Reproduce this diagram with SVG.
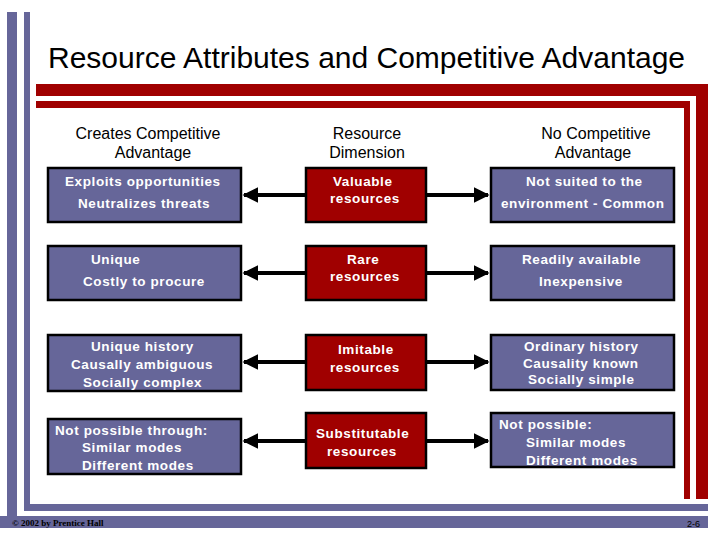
<svg xmlns="http://www.w3.org/2000/svg" width="720" height="540" viewBox="0 0 720 540">
<defs>
<marker id="ah" viewBox="0 0 10 10" refX="9" refY="5" markerWidth="4" markerHeight="4" orient="auto"><path d="M0,0 L10,5 L0,10 z" fill="#000"/></marker>
<style>
.b{fill:#666699;stroke:#000;stroke-width:2.5}
.r{fill:#A00000;stroke:#000;stroke-width:2.5}
.t{font-family:"Liberation Sans",Arial,sans-serif;font-size:13.5px;font-weight:bold;fill:#fff;letter-spacing:0.6px}
.h{font-family:"Liberation Sans",Arial,sans-serif;font-size:16px;fill:#000;text-anchor:middle}
.c{stroke:#000;stroke-width:4;marker-end:url(#ah)}
</style>
</defs>
<rect width="720" height="540" fill="#fff"/>
<g id="frame">
<rect x="7" y="12" width="10" height="516" fill="#666699"/>
<rect x="24" y="12" width="6" height="499" fill="#666699"/>
<rect x="24" y="504" width="684" height="7" fill="#666699"/>
<rect x="0" y="516" width="708" height="12" fill="#666699"/>
<rect x="36" y="84" width="672" height="12" fill="#A00000"/>
<rect x="36" y="101" width="654" height="7" fill="#A00000"/>
<rect x="696" y="84" width="12" height="415" fill="#A00000"/>
<rect x="684" y="101" width="6" height="398" fill="#A00000"/>
<text x="48" y="68" font-family="Liberation Sans,Arial,sans-serif" font-size="30" fill="#000">Resource Attributes and Competitive Advantage</text>
<text x="12" y="526" font-family="Liberation Serif,serif" font-size="9" font-weight="bold" fill="#000">© 2002 by Prentice Hall</text>
<text x="700" y="527" font-family="Liberation Sans,Arial,sans-serif" font-size="9" fill="#000" text-anchor="end">2-6</text>
</g>
<g id="headers">
<text class="h" x="148" y="139">Creates Competitive</text><text class="h" x="153" y="158">Advantage</text>
<text class="h" x="367" y="139">Resource</text><text class="h" x="367" y="158">Dimension</text>
<text class="h" x="596" y="139">No Competitive</text><text class="h" x="593" y="158">Advantage</text>
</g>
<g id="connectors">
<line class="c" x1="306" y1="195" x2="244" y2="195"/><line class="c" x1="426" y1="195" x2="488" y2="195"/>
<line class="c" x1="306" y1="273" x2="244" y2="273"/><line class="c" x1="426" y1="273" x2="488" y2="273"/>
<line class="c" x1="306" y1="362" x2="244" y2="362"/><line class="c" x1="426" y1="362" x2="488" y2="362"/>
<line class="c" x1="306" y1="441" x2="244" y2="441"/><line class="c" x1="426" y1="441" x2="488" y2="441"/>
</g>
<g id="n1l"><rect class="b" x="48" y="168" width="193" height="54"/><text class="t" x="65" y="186">Exploits opportunities</text><text class="t" x="78" y="208">Neutralizes threats</text></g>
<g id="n1m"><rect class="r" x="306" y="168" width="120" height="54"/><text class="t" x="333" y="186">Valuable</text><text class="t" x="330" y="203">resources</text></g>
<g id="n1r"><rect class="b" x="491" y="168" width="183" height="54"/><text class="t" x="526" y="186">Not suited to the</text><text class="t" x="501" y="208">environment - Common</text></g>
<g id="n2l"><rect class="b" x="48" y="246" width="193" height="54"/><text class="t" x="91" y="264">Unique</text><text class="t" x="83" y="286">Costly to procure</text></g>
<g id="n2m"><rect class="r" x="306" y="246" width="120" height="54"/><text class="t" x="347" y="264">Rare</text><text class="t" x="330" y="281">resources</text></g>
<g id="n2r"><rect class="b" x="491" y="246" width="183" height="54"/><text class="t" x="522" y="264">Readily available</text><text class="t" x="539" y="286">Inexpensive</text></g>
<g id="n3l"><rect class="b" x="48" y="335" width="193" height="56"/><text class="t" x="91" y="351">Unique history</text><text class="t" x="71" y="369">Causally ambiguous</text><text class="t" x="83" y="387">Socially complex</text></g>
<g id="n3m"><rect class="r" x="306" y="335" width="120" height="55"/><text class="t" x="338" y="354">Imitable</text><text class="t" x="330" y="372">resources</text></g>
<g id="n3r"><rect class="b" x="491" y="335" width="183" height="55"/><text class="t" x="524" y="351">Ordinary history</text><text class="t" x="523" y="368">Causality known</text><text class="t" x="528" y="384">Socially simple</text></g>
<g id="n4l"><rect class="b" x="48" y="419" width="193" height="55"/><text class="t" x="55" y="435">Not possible through:</text><text class="t" x="82" y="452">Similar modes</text><text class="t" x="82" y="470">Different modes</text></g>
<g id="n4m"><rect class="r" x="306" y="413" width="120" height="55"/><text class="t" x="316" y="438">Substitutable</text><text class="t" x="327" y="456">resources</text></g>
<g id="n4r"><rect class="b" x="491" y="413" width="183" height="54"/><text class="t" x="499" y="429">Not possible:</text><text class="t" x="526" y="447">Similar modes</text><text class="t" x="526" y="465">Different modes</text></g>
</svg>
